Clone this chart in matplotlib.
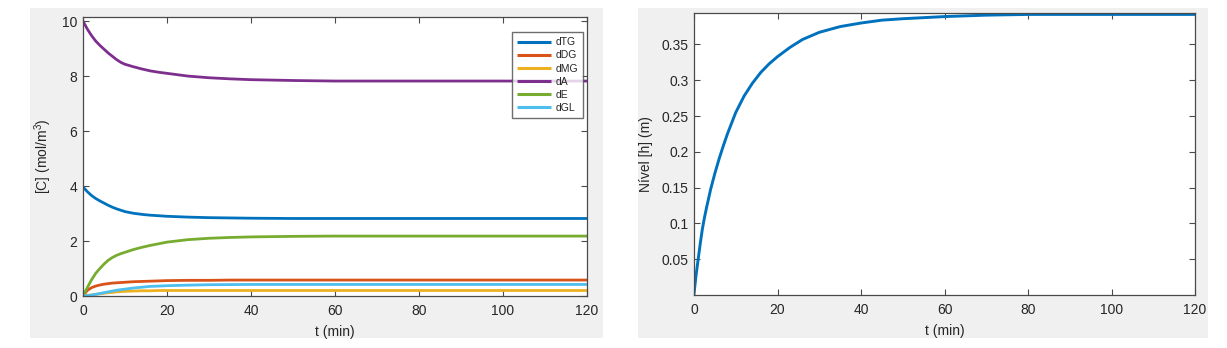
import matplotlib
matplotlib.use("Agg")
import matplotlib.pyplot as plt
from matplotlib.patches import Rectangle

plt.rcParams['font.family'] = ['Liberation Sans', 'DejaVu Sans']
plt.rcParams['mathtext.fontset'] = 'custom'
plt.rcParams['mathtext.rm'] = 'Liberation Sans'
plt.rcParams['mathtext.it'] = 'Liberation Sans:italic'

# ---- concentrations (mol/m^3) over time (min) ----
t_conc = [0, 1, 2, 3, 4, 5, 6, 7, 8, 9, 10, 12, 14, 16, 18, 20, 25, 30, 35, 40, 50, 60, 80, 100, 120]
dTG = [3.97, 3.80, 3.66, 3.55, 3.46, 3.38, 3.30, 3.23, 3.17, 3.12, 3.07, 3.01, 2.97, 2.94, 2.92, 2.90, 2.87, 2.85, 2.84, 2.83, 2.82, 2.82, 2.82, 2.82, 2.82]
dDG = [0.00, 0.20, 0.30, 0.36, 0.40, 0.43, 0.45, 0.47, 0.48, 0.49, 0.50, 0.52, 0.53, 0.54, 0.55, 0.56, 0.57, 0.57, 0.58, 0.58, 0.58, 0.58, 0.58, 0.58, 0.58]
dMG = [0.00, 0.02, 0.04, 0.06, 0.08, 0.10, 0.12, 0.13, 0.15, 0.16, 0.17, 0.18, 0.19, 0.19, 0.20, 0.20, 0.20, 0.20, 0.20, 0.20, 0.20, 0.20, 0.20, 0.20, 0.20]
dA = [10.00, 9.72, 9.48, 9.28, 9.12, 8.98, 8.84, 8.72, 8.60, 8.50, 8.43, 8.34, 8.26, 8.19, 8.14, 8.10, 8.00, 7.94, 7.90, 7.87, 7.84, 7.82, 7.82, 7.82, 7.82]
dE = [0.00, 0.30, 0.58, 0.82, 1.00, 1.16, 1.30, 1.40, 1.48, 1.54, 1.59, 1.69, 1.77, 1.84, 1.90, 1.96, 2.05, 2.10, 2.13, 2.15, 2.17, 2.18, 2.18, 2.18, 2.18]
dGL = [0.00, 0.01, 0.03, 0.06, 0.09, 0.12, 0.15, 0.18, 0.21, 0.23, 0.25, 0.29, 0.32, 0.35, 0.36, 0.375, 0.395, 0.41, 0.415, 0.42, 0.42, 0.42, 0.42, 0.42, 0.42]

series_names = ['dTG', 'dDG', 'dMG', 'dA', 'dE', 'dGL']
series_values = [dTG, dDG, dMG, dA, dE, dGL]
series_colors = ['#0072BD', '#D95319', '#EDB120', '#7E2F8E', '#77AC30', '#4DBEEE']

# ---- tank level (m) over time (min) ----
t_level = [0, 0.5, 1, 1.5, 2, 2.5, 3, 4, 5, 6, 7, 8, 9, 10, 12, 14, 16, 18, 20, 23, 26, 30, 35, 40, 45, 50, 60, 70, 80, 100, 120]
level = [0.002, 0.028, 0.050, 0.072, 0.092, 0.108, 0.122, 0.148, 0.170, 0.190, 0.208, 0.225, 0.240, 0.255, 0.278, 0.296, 0.311, 0.323, 0.333, 0.346, 0.357, 0.367, 0.375, 0.380, 0.384, 0.386, 0.389, 0.391, 0.392, 0.392, 0.392]

conc_xticks = [0, 20, 40, 60, 80, 100, 120]
conc_yticks = [0, 2, 4, 6, 8, 10]
level_yticks = [0.05, 0.1, 0.15, 0.2, 0.25, 0.3, 0.35]
level_yticklabels = ['0.05', '0.1', '0.15', '0.2', '0.25', '0.3', '0.35']

W, H = 1227, 348
fig = plt.figure(figsize=(W / 100, H / 100), dpi=100)
fig.patch.set_facecolor('white')

panel_gray = '#f0f0f0'
ink = '#262626'
edge = '#4a4a4a'


def px_rect(x0, y0, x1, y1):
    return [x0 / W, 1 - y1 / H, (x1 - x0) / W, (y1 - y0) / H]


# window backgrounds, kept beneath the axes
for (x0, y0, x1, y1) in [(30, 8, 603, 338), (638, 8, 1208, 338)]:
    l, b, w, h = px_rect(x0, y0, x1, y1)
    fig.patches.append(Rectangle((l, b), w, h, transform=fig.transFigure,
                                 facecolor=panel_gray, edgecolor='none', zorder=-10))


def style_axes(ax):
    ax.set_zorder(5)
    ax.set_facecolor('white')
    for s in ax.spines.values():
        s.set_color(edge)
        s.set_linewidth(0.9)
    ax.tick_params(direction='in', length=4.5, width=0.8, color=edge,
                   top=True, right=True, labelsize=10, labelcolor=ink)
    ax.tick_params(axis='x', pad=6)
    ax.tick_params(axis='y', pad=4)


# left: concentrations
ax1 = fig.add_axes(px_rect(83, 17, 587, 296))
style_axes(ax1)
for name, vals, col in zip(series_names, series_values, series_colors):
    ax1.plot(t_conc, vals, color=col, lw=2.0, label=name, solid_capstyle='butt')
ax1.set_xlim(0, 120)
ax1.set_ylim(0, 10.15)
ax1.set_xticks(conc_xticks)
ax1.set_yticks(conc_yticks)
ax1.set_xlabel('t (min)', fontsize=10, color=ink, labelpad=5)
ax1.set_ylabel('[C] (mol/m$^3$)', fontsize=10, color=ink, labelpad=6)
leg = ax1.legend(loc='upper right', bbox_to_anchor=(0.992, 0.946), fontsize=7.5,
                 frameon=True, fancybox=False, handlelength=3.3, handletextpad=0.35,
                 labelspacing=0.3, borderpad=0.5, borderaxespad=0)
leg.get_frame().set_edgecolor(edge)
leg.get_frame().set_linewidth(1.0)
for line in leg.get_lines():
    line.set_linewidth(2.2)
for txt in leg.get_texts():
    txt.set_color(ink)

# right: tank level
ax2 = fig.add_axes(px_rect(694, 13, 1195, 295))
style_axes(ax2)
ax2.plot(t_level, level, color='#0072BD', lw=2.1)
ax2.set_xlim(0, 120)
ax2.set_ylim(0, 0.394)
ax2.set_xticks(conc_xticks)
ax2.set_yticks(level_yticks)
ax2.set_yticklabels(level_yticklabels)
ax2.set_xlabel('t (min)', fontsize=10, color=ink, labelpad=5)
ax2.set_ylabel('Nível [h] (m)', fontsize=10, color=ink, labelpad=6)

fig.savefig('out.png', dpi=100, facecolor='white')
